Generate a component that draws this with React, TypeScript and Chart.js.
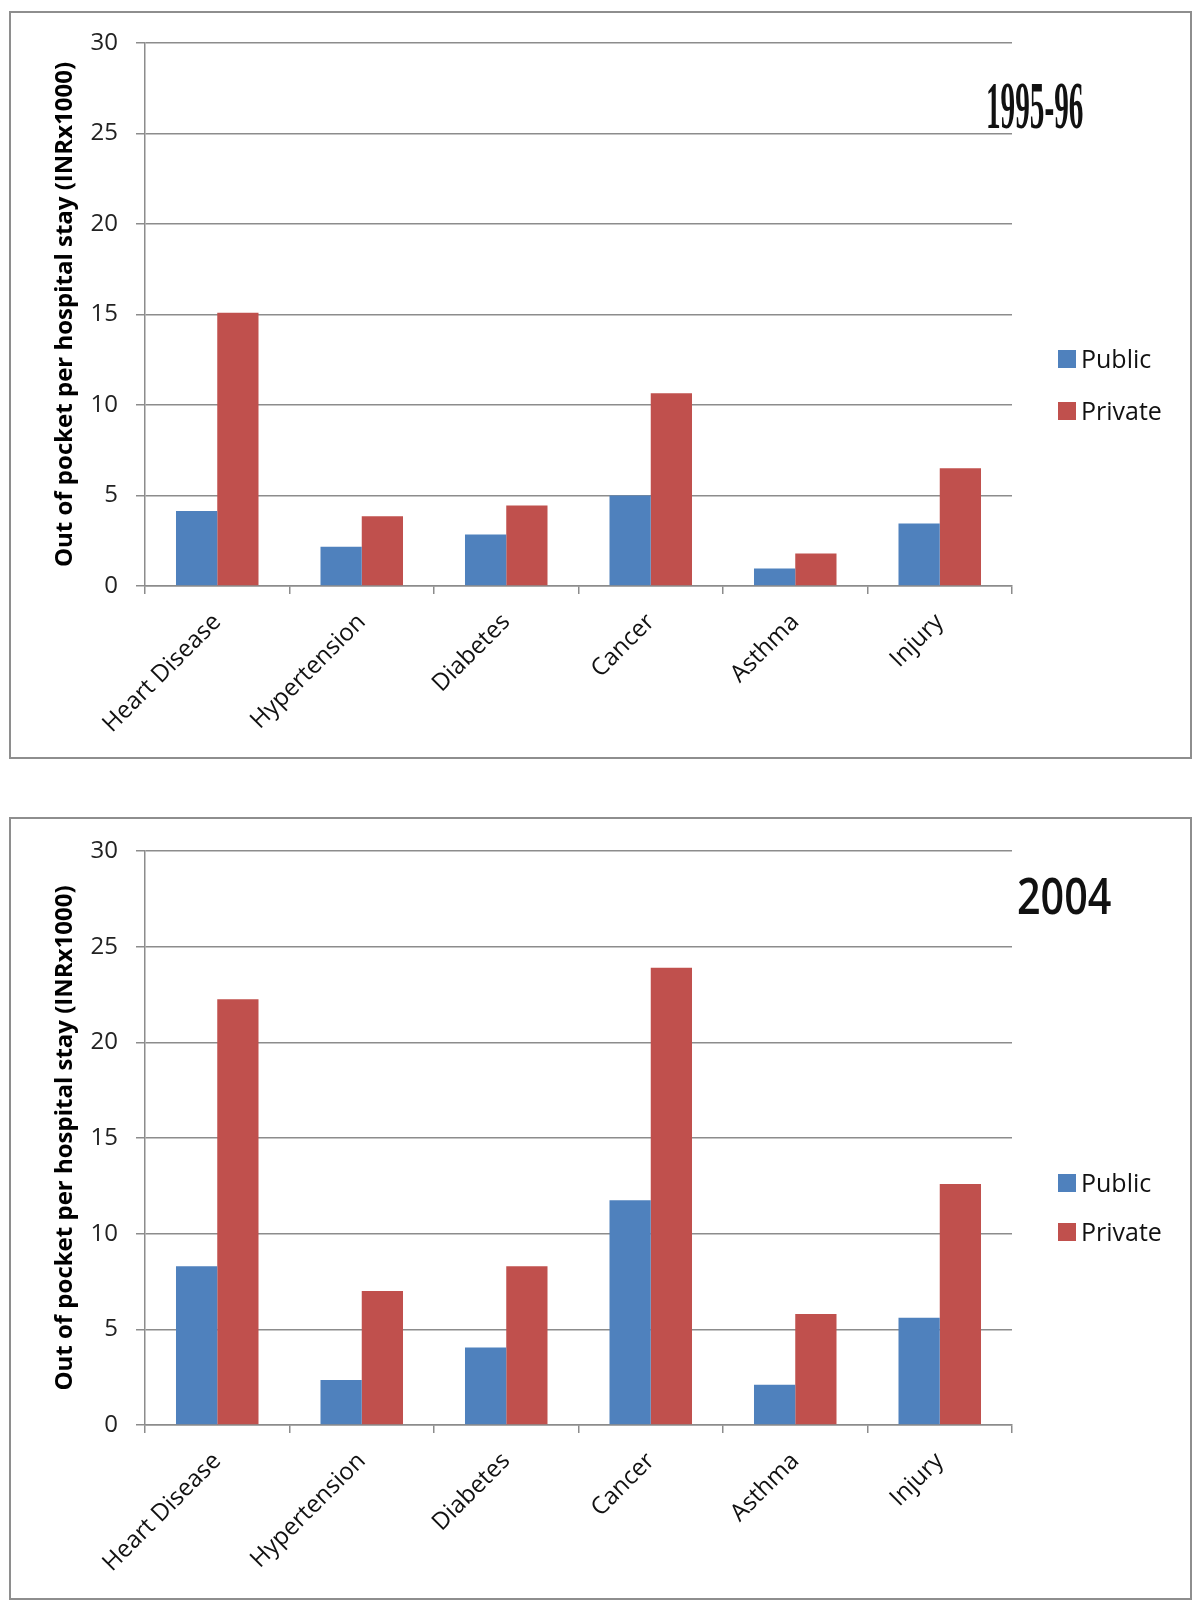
import React, { useEffect, useRef } from "react";
import { Chart, registerables } from "chart.js";

Chart.register(...registerables);

// ---- data ----
const categories = ["Heart Disease", "Hypertension", "Diabetes", "Cancer", "Asthma", "Injury"];
const public1995 = [4.15, 2.17, 2.85, 5.0, 0.97, 3.45];
const private1995 = [15.1, 3.85, 4.45, 10.65, 1.8, 6.5];
const public2004 = [8.3, 2.35, 4.05, 11.75, 2.1, 5.6];
const private2004 = [22.25, 7.0, 8.3, 23.9, 5.8, 12.6];
const yTickValues = [0, 5, 10, 15, 20, 25, 30];
const seriesNames = ["Public", "Private"];
const seriesColors = ["#4F81BD", "#C0504D"];
const yTitle = "Out of pocket per hospital stay (INRx1000)";
const yearLabels = ["1995-96", "2004"];

const GRID = "#8c8c8c";
const FONT = "'Open Sans', 'Noto Sans', sans-serif";

type PanelProps = {
  top: number;
  height: number;
  plotTop: number;
  xAxisHeight: number;
  pub: number[];
  priv: number[];
  year: string;
  yearFont: string;
  yearX: number;
  yearBaseline: number;
  yearScaleX: number;
  legendBaselines: number[];
};

function Panel(p: PanelProps) {
  const ref = useRef<HTMLCanvasElement | null>(null);
  useEffect(() => {
    const canvas = ref.current;
    if (!canvas) return;
    const overlay = {
      id: "overlay",
      afterDraw(chart: any) {
        const ctx = chart.ctx as CanvasRenderingContext2D;
        ctx.save();
        // year label
        ctx.fillStyle = "#111";
        ctx.font = p.yearFont;
        ctx.textBaseline = "alphabetic";
        ctx.textAlign = "left";
        ctx.translate(p.yearX, p.yearBaseline);
        ctx.scale(p.yearScaleX, 1);
        ctx.fillText(p.year, 0, 0);
        ctx.restore();
        // legend
        ctx.save();
        ctx.font = `25px ${FONT}`;
        ctx.textBaseline = "alphabetic";
        ctx.textAlign = "left";
        seriesNames.forEach((name, i) => {
          const b = p.legendBaselines[i];
          ctx.fillStyle = seriesColors[i];
          ctx.fillRect(1058, b - 18, 18, 18);
          ctx.fillStyle = "#111";
          ctx.fillText(name, 1081, b);
        });
        ctx.restore();
      },
    };
    const chart = new Chart(canvas, {
      type: "bar",
      data: {
        labels: categories,
        datasets: [
          {
            label: seriesNames[0],
            data: p.pub,
            backgroundColor: seriesColors[0],
            borderWidth: 0,
            categoryPercentage: 0.571,
            barPercentage: 1,
          },
          {
            label: seriesNames[1],
            data: p.priv,
            backgroundColor: seriesColors[1],
            borderWidth: 0,
            categoryPercentage: 0.571,
            barPercentage: 1,
          },
        ],
      },
      options: {
        animation: false,
        responsive: false,
        maintainAspectRatio: false,
        devicePixelRatio: 1,
        layout: { padding: { left: 51, top: p.plotTop, right: 188, bottom: 0 } },
        plugins: { legend: { display: false }, tooltip: { enabled: false } },
        scales: {
          x: {
            offset: true,
            grid: {
              display: true,
              drawOnChartArea: false,
              drawTicks: true,
              tickLength: 8,
              color: GRID,
              lineWidth: 1.5,
              offset: true,
            },
            border: { display: true, color: GRID, width: 1.5 },
            ticks: {
              minRotation: 45,
              maxRotation: 45,
              autoSkip: false,
              color: "#111",
              font: { family: FONT, size: 24 },
              padding: 14,
            },
            afterFit: (s: any) => {
              s.height = p.xAxisHeight;
            },
          },
          y: {
            min: 0,
            max: 30,
            afterBuildTicks: (s: any) => {
              s.ticks = yTickValues.map((v) => ({ value: v }));
            },
            ticks: {
              color: "#222",
              font: { family: FONT, size: 24 },
              padding: 18,
            },
            grid: { color: GRID, lineWidth: 1.5, tickLength: 9 },
            border: { display: true, color: GRID, width: 1.5 },
            title: {
              display: true,
              text: yTitle,
              color: "#000",
              font: { family: FONT, size: 24, weight: "bold" },
              padding: 0,
            },
            afterFit: (s: any) => {
              s.width = 94;
            },
          },
        },
      },
      plugins: [overlay],
    } as any);
    return () => chart.destroy();
  }, []);
  return (
    <canvas
      ref={ref}
      width={1200}
      height={p.height}
      style={{ position: "absolute", left: 0, top: p.top, width: 1200, height: p.height }}
    />
  );
}

export default function App() {
  return (
    <div style={{ position: "absolute", left: 0, top: 0, width: 1200, height: 1611, background: "#fff" }}>
      <div
        style={{
          position: "absolute",
          left: 9,
          top: 11,
          width: 1183,
          height: 748,
          border: "2px solid #8e8e8e",
          boxSizing: "border-box",
        }}
      />
      <div
        style={{
          position: "absolute",
          left: 9,
          top: 817,
          width: 1183,
          height: 783,
          border: "2px solid #8e8e8e",
          boxSizing: "border-box",
        }}
      />
      <Panel
        top={0}
        height={790}
        plotTop={43}
        xAxisHeight={204}
        pub={public1995}
        priv={private1995}
        year={yearLabels[0]}
        yearFont="bold 68px 'Liberation Serif', serif"
        yearX={986}
        yearBaseline={128}
        yearScaleX={0.43}
        legendBaselines={[368, 420]}
      />
      <Panel
        top={800}
        height={811}
        plotTop={51}
        xAxisHeight={186}
        pub={public2004}
        priv={private2004}
        year={yearLabels[1]}
        yearFont={`600 51px ${FONT}`}
        yearX={1017}
        yearBaseline={114}
        yearScaleX={0.81}
        legendBaselines={[392, 441]}
      />
    </div>
  );
}
